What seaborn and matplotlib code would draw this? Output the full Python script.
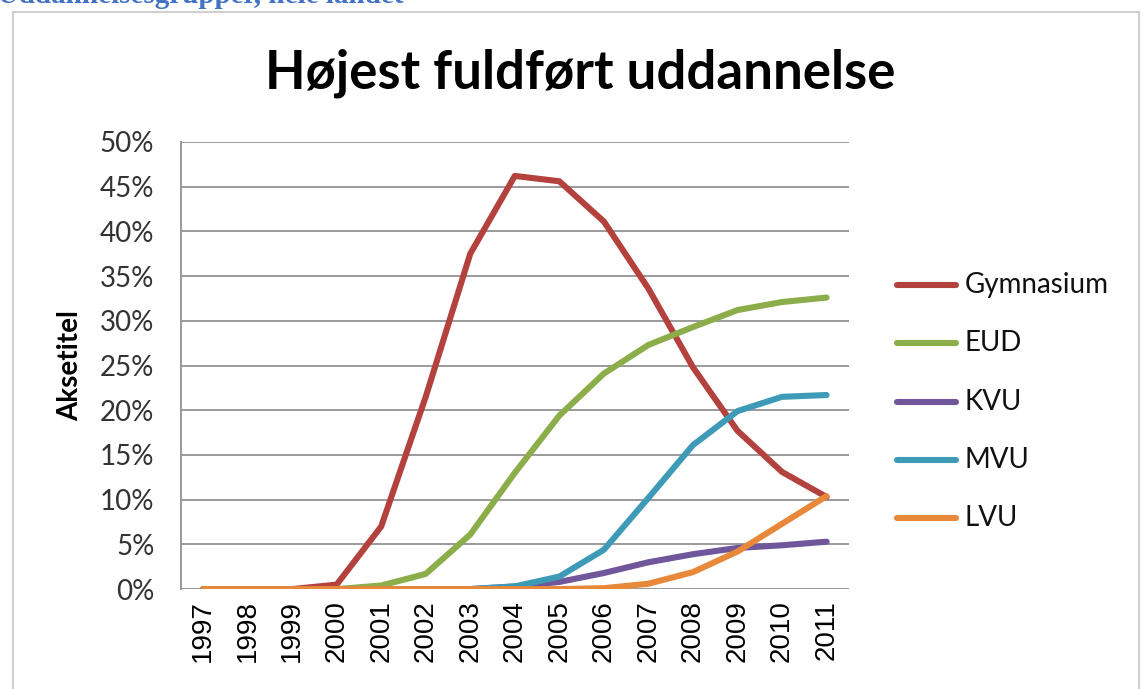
import pandas as pd
import seaborn as sns
import matplotlib.pyplot as plt
from matplotlib.patches import Rectangle
from matplotlib.ticker import PercentFormatter

years = [1997, 1998, 1999, 2000, 2001, 2002, 2003, 2004, 2005, 2006, 2007, 2008, 2009, 2010, 2011]

gymnasium = [0, 0, 0, 0.5, 7.0, 21.5, 37.5, 46.2, 45.6, 41.1, 33.6, 24.8, 17.7, 13.1, 10.3]
eud = [0, 0, 0, 0, 0.4, 1.7, 6.1, 13.0, 19.4, 24.1, 27.3, 29.3, 31.2, 32.1, 32.6]
kvu = [0, 0, 0, 0, 0, 0, 0, 0.3, 0.8, 1.8, 3.0, 3.9, 4.6, 4.9, 5.3]
mvu = [0, 0, 0, 0, 0, 0, 0, 0.3, 1.4, 4.4, 10.2, 16.1, 19.9, 21.5, 21.7]
lvu = [0, 0, 0, 0, 0, 0, 0, 0, 0, 0.1, 0.6, 1.9, 4.2, 7.3, 10.4]

series_names = ["Gymnasium", "EUD", "KVU", "MVU", "LVU"]
colors = ["#B3423E", "#8CAE4A", "#70569A", "#3E9BB8", "#E7883A"]

# lang form til seaborn
df = pd.DataFrame({"år": years, "Gymnasium": gymnasium, "EUD": eud,
                   "KVU": kvu, "MVU": mvu, "LVU": lvu})
df = df.melt(id_vars="år", var_name="gruppe", value_name="andel")

sns.set_style("white")
plt.rcParams["font.family"] = ["Lato", "DejaVu Sans"]

fig = plt.figure(figsize=(11.44, 6.89), dpi=100)
ax = fig.add_axes([0.158, 0.145, 0.584, 0.649])

sns.lineplot(data=df, x="år", y="andel", hue="gruppe", hue_order=series_names,
             palette=colors, linewidth=4.4, ax=ax, legend=False,
             solid_capstyle="round", zorder=3)

ax.set_xlim(1996.5, 2011.5)
ax.set_ylim(0, 50)
ax.set_yticks(range(0, 51, 5))
ax.yaxis.set_major_formatter(PercentFormatter(decimals=0))
ax.set_xticks(years)
ax.set_xticklabels([str(y) for y in years], rotation=90, family="Liberation Sans",
                   fontsize=20, color="black")
for lab in ax.get_yticklabels():
    lab.set_fontsize(20)
    lab.set_color("#333333")

ax.grid(axis="y", color="#9A9A9A", linewidth=1.4, zorder=0)
ax.grid(axis="x", visible=False)
for side in ["top", "right", "bottom"]:
    ax.spines[side].set_visible(False)
ax.spines["left"].set_color("#9A9A9A")
ax.spines["left"].set_linewidth(1.4)
ax.tick_params(axis="y", length=5, color="#9A9A9A", width=1.4, pad=14)
ax.tick_params(axis="x", length=0, pad=8)

ax.set_xlabel("")
ax.set_ylabel("Aksetitel", fontsize=20, fontweight="bold", labelpad=12, color="black")

fig.text(0.507, 0.893, "Højest fuldført uddannelse", ha="center", va="center",
         fontsize=38, fontweight="bold", color="black")

# forklaring til højre
for i, (name, col) in enumerate(zip(series_names, colors)):
    yy = 0.586 - i * 0.0845
    fig.add_artist(plt.Line2D([0.784, 0.836], [yy, yy], color=col, linewidth=4.4,
                              solid_capstyle="round", transform=fig.transFigure))
    fig.text(0.843, yy, name, va="center", ha="left", fontsize=20, color="#111111")

# ramme om diagrammet
fig.add_artist(Rectangle((0.011, -0.01), 0.985, 0.993, transform=fig.transFigure,
                         fill=False, edgecolor="#D0D0D0", linewidth=1.5))

# afskåret overskrift fra dokumentet ovenover
fig.text(0.353, 0.9956, "Figur 3: Uddannelsesgrupper, hele landet", ha="right", va="baseline",
         fontsize=21, fontweight="bold", color="#4472C4", family="Liberation Serif")

fig.savefig("out.png", dpi=100)
